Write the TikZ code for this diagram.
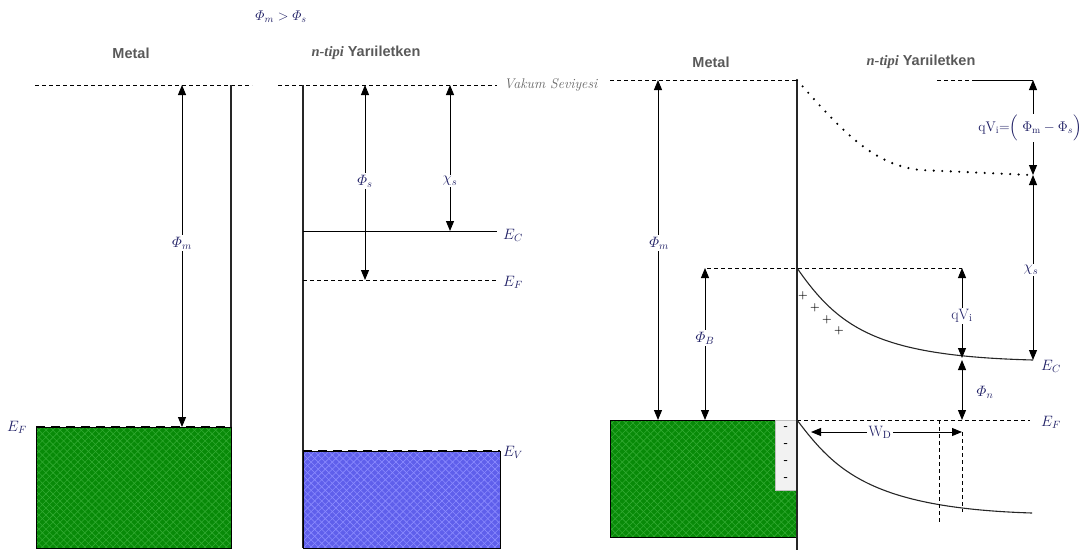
\RequirePackage{fix-cm}
\documentclass[tikz,border=0pt]{standalone}
\usepackage{amsmath}
\usepackage{fontspec}
\newfontfamily\hv{Liberation Sans}
\newfontfamily\hvs{Liberation Serif}
\usetikzlibrary{patterns.meta,arrows.meta}
\definecolor{navy}{RGB}{30,30,100}
\definecolor{mgreen}{RGB}{8,138,8}
\definecolor{mgreenl}{RGB}{50,170,50}
\definecolor{sblue}{RGB}{95,95,235}
\definecolor{sbluel}{RGB}{140,140,255}
\tikzset{
  dim/.style={{Triangle[length=10pt,width=8pt]}-{Triangle[length=10pt,width=8pt]},line width=1pt},
  lvl/.style={line width=1.2pt,black!85},
  dsh/.style={line width=0.8pt,dash pattern=on 4pt off 3pt},
  lbl/.style={text=navy,font=\fontsize{15}{15}\selectfont,fill=white,inner sep=1.5pt},
  elbl/.style={text=navy,font=\fontsize{15}{15}\selectfont,inner sep=1pt},
  head/.style={text=black!65,font=\hv\bfseries\fontsize{14.5}{14}\selectfont,inner sep=1pt},
  vac/.style={text=black!60,font=\itshape\fontsize{14}{14}\selectfont,inner sep=1pt},
  greenbox/.style={fill=mgreen},
  bluebox/.style={fill=sblue},
  ptopline/.style={line width=2pt,dash pattern=on 9pt off 6pt},
  charge/.style={inner sep=0pt,font=\bfseries\fontsize{11}{11}\selectfont},
}
\begin{document}
\begin{tikzpicture}[x=1pt,y=-1pt]
\useasboundingbox (0,0) rectangle (1091,554);
% title
\node[elbl,font=\fontsize{14}{14}\selectfont] (title) at (281,17) {$\varPhi_m > \varPhi_s$};
% ---------- left: metal ----------
\node[head] (hm1) at (131,53) {Metal};
\coordinate (v1a) at (35,85); \coordinate (v1b) at (252,85);
\draw[dsh] (v1a) -- (v1b);
\coordinate (m1t) at (231,85); \coordinate (m1b) at (231,427);
\draw[lvl] (m1t) -- (m1b);
\fill[greenbox] (36,427) rectangle (231,548);
\fill[pattern={Lines[angle=45,distance=5pt,line width=0.6pt]},pattern color=mgreenl] (36.5,427.5) rectangle (230.5,547.5);
\fill[pattern={Lines[angle=-45,distance=5pt,line width=0.6pt]},pattern color=mgreenl] (36.5,427.5) rectangle (230.5,547.5);
\draw[black,line width=0.8pt] (36,427) rectangle (231,548);
\coordinate (ef1a) at (36,427); \coordinate (ef1b) at (231,427);
\draw[ptopline] (ef1a) -- (ef1b);
\coordinate (pm1t) at (182,85); \coordinate (pm1b) at (182,427);
\draw[dim] (pm1t) -- (pm1b);
\node[lbl] (lpm1) at (182,243) {$\varPhi_m$};
\node[elbl] (lef1) at (17,427) {$E_F$};
% ---------- middle: semiconductor ----------
\node[head] (hs1) at (366,53) {{\hvs\bfseries\itshape n-tipi} Yarıiletken};
\coordinate (v2a) at (278,85); \coordinate (v2b) at (497,85);
\draw[dsh] (v2a) -- (v2b);
\node[vac,anchor=west] (vaclbl) at (503,85) {Vakum Seviyesi};
\coordinate (s1t) at (303,85); \coordinate (s1b) at (303,548);
\draw[lvl] (s1t) -- (s1b);
\coordinate (ec2a) at (303,231); \coordinate (ec2b) at (497,231);
\draw[line width=1pt] (ec2a) -- (ec2b);
\coordinate (ef2a) at (303,280); \coordinate (ef2b) at (497,280);
\draw[dsh] (ef2a) -- (ef2b);
\fill[bluebox] (303,451) rectangle (500,548);
\fill[pattern={Lines[angle=45,distance=5pt,line width=0.6pt]},pattern color=sbluel] (303.5,451.5) rectangle (499.5,547.5);
\fill[pattern={Lines[angle=-45,distance=5pt,line width=0.6pt]},pattern color=sbluel] (303.5,451.5) rectangle (499.5,547.5);
\draw[black,line width=0.8pt] (303,451) rectangle (500,548);
\coordinate (ev2a) at (303,451); \coordinate (ev2b) at (500,451);
\draw[ptopline] (ev2a) -- (ev2b);
\coordinate (ps2t) at (365,85); \coordinate (ps2b) at (365,280);
\draw[dim] (ps2t) -- (ps2b);
\node[lbl] (lps2) at (365,181) {$\varPhi_s$};
\coordinate (ch2t) at (450,85); \coordinate (ch2b) at (450,231);
\draw[dim] (ch2t) -- (ch2b);
\node[lbl] (lch2) at (450,181) {$\chi_s$};
\node[elbl] (lec2) at (513,235) {$E_C$};
\node[elbl] (lef2) at (513,282) {$E_F$};
\node[elbl] (lev2) at (513,452) {$E_V$};
% ---------- right: junction ----------
\node[head] (hm3) at (711,62) {Metal};
\node[head] (hs3) at (921,62) {{\hvs\bfseries\itshape n-tipi} Yarıiletken};
\coordinate (v3a) at (610,80); \coordinate (v3b) at (797,80);
\draw[dsh] (v3a) -- (v3b);
\coordinate (j3t) at (797,80); \coordinate (j3b) at (797,550);
\fill[greenbox] (610,420) rectangle (797,537);
\fill[pattern={Lines[angle=45,distance=5pt,line width=0.6pt]},pattern color=mgreenl] (610.5,420.5) rectangle (796.5,536.5);
\fill[pattern={Lines[angle=-45,distance=5pt,line width=0.6pt]},pattern color=mgreenl] (610.5,420.5) rectangle (796.5,536.5);
\draw[black,line width=0.8pt] (610,420) rectangle (797,537);
\fill[black!5,draw=black!25,line width=0.6pt] (775,420) rectangle (797,490);
\foreach \yy/\nn in {428/a,445/b,462/c,479/d} \node[charge] (minus\nn) at (786,\yy) {-};
\draw[lvl] (j3t) -- (j3b);
% dotted vacuum level
\coordinate (dv3m) at (920,170);
\coordinate (dv3b) at (1030,175);
\draw[line width=2.4pt,line cap=round,dash pattern=on 0pt off 8.5pt] (j3t) .. controls (845,135) and (875,165) .. (dv3m) -- (dv3b);
\coordinate (v4a) at (937,80); \coordinate (v4m) at (975,80); \coordinate (v4b) at (1033,80);
\draw[dsh] (v4a) -- (v4m);
\draw[line width=1pt] (v4m) -- (v4b);
\coordinate (q4m) at (1033,175); \coordinate (ec4r) at (1033,360);
\draw[dim] (v4b) -- (q4m);
\node[lbl,font=\fontsize{14}{14}\selectfont] (lqv) at (1030,128) {$\mathrm{qV_i}{=}\Bigl(\;\Phi_{\mathrm{m}}-\Phi_s\Bigr)$};
\draw[dim] (q4m) -- (ec4r);
\node[lbl] (lch4) at (1031,270) {$\chi_s$};
% barrier
\coordinate (b3a) at (707,268); \coordinate (b3b) at (962,268);
\draw[dsh] (b3a) -- (b3b);
\coordinate (ec3a) at (797,268);
\draw[line width=1.1pt,black!85] (ec3a) .. controls (840,330) and (880,356) .. (ec4r);
\coordinate (qv3b) at (962,358);
\draw[dim] (b3b) -- (qv3b);
\node[lbl] (lqv3) at (962,316) {$\mathrm{qV_i}$};
\coordinate (pn3t) at (962,360); \coordinate (pn3b) at (962,420);
\draw[dim] (pn3t) -- (pn3b);
\node[elbl] (lpn3) at (985,392) {$\varPhi_n$};
\coordinate (ef3a) at (797,420); \coordinate (ef3b) at (1030,420);
\draw[dsh] (ef3a) -- (ef3b);
\node[elbl] (lec3) at (1051,366) {$E_C$};
\node[elbl] (lef3) at (1051,422) {$E_F$};
\coordinate (pm3t) at (658,80); \coordinate (pm3b) at (658,420);
\draw[dim] (pm3t) -- (pm3b);
\node[lbl] (lpm3) at (659,243) {$\varPhi_m$};
\coordinate (pb3t) at (705,268); \coordinate (pb3b) at (705,420);
\draw[dim] (pb3t) -- (pb3b);
\node[lbl] (lpb3) at (705,338) {$\varPhi_B$};
\foreach \xx/\yy/\nn in {803/296/a,815/308/b,827/320/c,839/331/d} \node[charge] (plus\nn) at (\xx,\yy) {+};
% valence band bending
\coordinate (vb3b) at (1032,513);
\draw[line width=1.1pt,black!85] (ef3a) .. controls (835,470) and (870,508) .. (vb3b);
% depletion width
\coordinate (wd3a) at (811,432); \coordinate (wd3b) at (962,432);
\draw[dim] (wd3a) -- (wd3b);
\node[lbl] (lwd) at (880,432) {$\mathrm{W_D}$};
\coordinate (d1t) at (939,420); \coordinate (d1b) at (939,522);
\draw[dsh] (d1t) -- (d1b);
\coordinate (d2b) at (962,512);
\draw[dsh] (wd3b) -- (d2b);
\end{tikzpicture}
\end{document}
